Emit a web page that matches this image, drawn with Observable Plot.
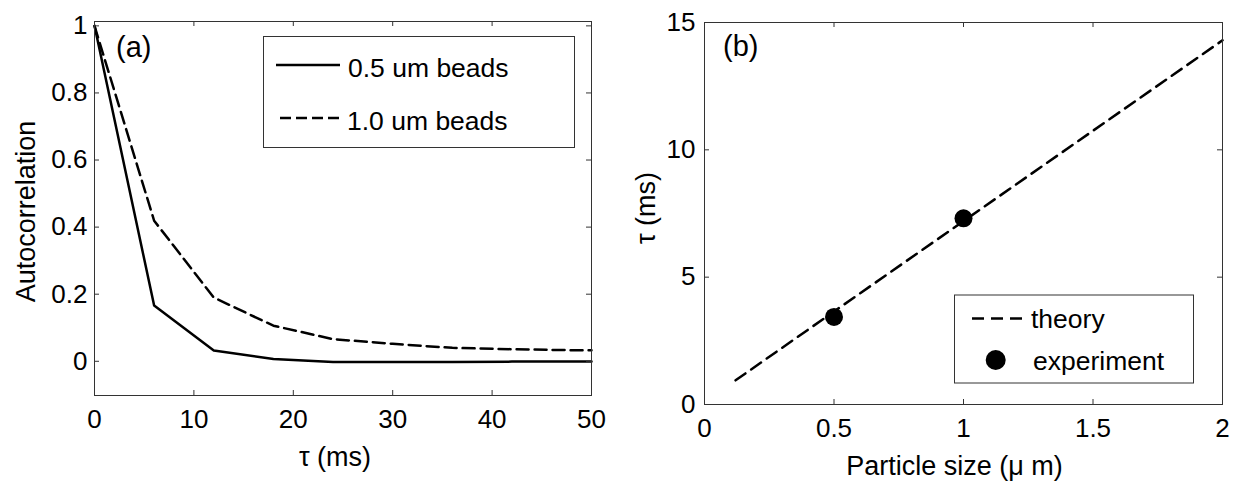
<!DOCTYPE html>
<html><head><meta charset="utf-8">
<script src="https://cdn.jsdelivr.net/npm/d3@7"></script>
<script src="https://cdn.jsdelivr.net/npm/@observablehq/plot@0.6"></script>
<style>
body{margin:0;background:#fff;}
#wrap{position:relative;width:1235px;height:484px;overflow:hidden;background:#fff;font-family:"Liberation Sans",Arial,sans-serif;}
#wrap svg{position:absolute;top:0;}
</style></head><body><div id="wrap"></div>
<script>
// Panel (a): autocorrelation vs tau
const tau = [0, 6, 12, 18, 24, 30, 36, 42, 48, 50];
const beads05 = [1, 0.166, 0.032, 0.007, -0.002, -0.002, -0.002, -0.001, -0.001, -0.001];
const beads10 = [1, 0.419, 0.19, 0.106, 0.066, 0.052, 0.04, 0.036, 0.033, 0.033];
const tauTicks = [0, 10, 20, 30, 40, 50];
const acTicks = [0, 0.2, 0.4, 0.6, 0.8, 1];
const legendA = ["0.5 um beads", "1.0 um beads"];

// Panel (b): tau vs particle size
const theorySize = [0.12, 0.5, 1.0, 1.5, 2.0];
const theoryTau = [0.95, 3.65, 7.2, 10.75, 14.3];
const expSize = [0.5, 1.0];
const expTau = [3.44, 7.31];
const sizeTicks = [0, 0.5, 1, 1.5, 2];
const tauBTicks = [0, 5, 10, 15];
const legendB = ["theory", "experiment"];

const FONT = "'Liberation Sans', Arial, sans-serif";
const FRAME = "#333";
const fmt = d => `${d}`;
const wrap = document.getElementById("wrap");

function boxTicks(xt, yt, pw, ph) {
  return [
    Plot.ruleX(xt, {x: d => d, insetTop: ph - 5, stroke: FRAME}),
    Plot.ruleX(xt, {x: d => d, insetBottom: ph - 5, stroke: FRAME}),
    Plot.ruleY(yt, {y: d => d, insetRight: pw - 5, stroke: FRAME}),
    Plot.ruleY(yt, {y: d => d, insetLeft: pw - 5, stroke: FRAME})
  ];
}

// ---- Panel (a)
const A = {w: 617, h: 484, mt: 21, mr: 26, mb: 89, ml: 94};
const Apw = A.w - A.ml - A.mr, Aph = A.h - A.mt - A.mb;
const rowsA05 = tau.map((t, i) => ({t, v: beads05[i]}));
const rowsA10 = tau.map((t, i) => ({t, v: beads10[i]}));
const chartA = Plot.plot({
  width: A.w, height: A.h,
  marginTop: A.mt, marginRight: A.mr, marginBottom: A.mb, marginLeft: A.ml,
  style: {fontFamily: FONT, fontSize: "26px", color: "black", background: "transparent", overflow: "visible"},
  x: {domain: [0, 50]},
  y: {domain: [-0.102, 1.013]},
  marks: [
    Plot.line(rowsA05, {x: "t", y: "v", stroke: "black", strokeWidth: 2.5}),
    Plot.line(rowsA10, {x: "t", y: "v", stroke: "black", strokeWidth: 2.5, strokeDasharray: "12,6"}),
    Plot.frame({stroke: FRAME}),
    ...boxTicks(tauTicks, acTicks, Apw, Aph),
    Plot.axisX(tauTicks, {anchor: "bottom", tickSize: 0, tickPadding: 14, label: null, fontSize: 26, tickFormat: fmt}),
    Plot.axisY(acTicks, {anchor: "left", tickSize: 0, tickPadding: 7, label: null, fontSize: 26, tickFormat: fmt}),
    Plot.text(["τ (ms)"], {frameAnchor: "bottom", textAnchor: "middle", dx: -8, dy: 70, fontSize: 27, fill: "black"}),
    Plot.text(["Autocorrelation"], {frameAnchor: "left", textAnchor: "middle", rotate: -90, dx: -68.5, dy: 3, fontSize: 27, fill: "black"})
  ]
});
chartA.style.left = "0px";
wrap.appendChild(chartA);

// ---- Panel (b)
const B = {w: 618, h: 484, mt: 22, mr: 13, mb: 80, ml: 87};
const Bpw = B.w - B.ml - B.mr, Bph = B.h - B.mt - B.mb;
const rowsTheory = theorySize.map((s, i) => ({s, t: theoryTau[i]}));
const rowsExp = expSize.map((s, i) => ({s, t: expTau[i]}));
const chartB = Plot.plot({
  width: B.w, height: B.h,
  marginTop: B.mt, marginRight: B.mr, marginBottom: B.mb, marginLeft: B.ml,
  style: {fontFamily: FONT, fontSize: "26px", color: "black", background: "transparent", overflow: "visible"},
  x: {domain: [0, 2]},
  y: {domain: [0, 15]},
  marks: [
    Plot.line(rowsTheory, {x: "s", y: "t", stroke: "black", strokeWidth: 2.5, strokeDasharray: "12,7"}),
    Plot.dot(rowsExp, {x: "s", y: "t", r: 9, fill: "black"}),
    Plot.frame({stroke: FRAME}),
    ...boxTicks(sizeTicks, tauBTicks, Bpw, Bph),
    Plot.axisX(sizeTicks, {anchor: "bottom", tickSize: 0, tickPadding: 14, label: null, fontSize: 26, tickFormat: fmt}),
    Plot.axisY(tauBTicks, {anchor: "left", tickSize: 0, tickPadding: 9, label: null, fontSize: 26, tickFormat: fmt}),
    Plot.text(["Particle size (μ m)"], {frameAnchor: "bottom", textAnchor: "middle", dx: -9, dy: 70, fontSize: 27, fill: "black"}),
    Plot.text(["τ (ms)"], {frameAnchor: "left", textAnchor: "middle", rotate: -90, dx: -58.5, dy: -5.5, fontSize: 27, fill: "black"})
  ]
});
chartB.style.left = "617px";
wrap.appendChild(chartB);

// ---- Legends and panel letters (overlay)
const ov = d3.select(wrap).append("svg")
  .attr("width", 1235).attr("height", 484)
  .style("left", "0px").style("pointer-events", "none")
  .attr("font-family", FONT).attr("fill", "black");

ov.append("text").attr("x", 116).attr("y", 57).attr("font-size", 29).text("(a)");
ov.append("text").attr("x", 723).attr("y", 55.5).attr("font-size", 29).text("(b)");

// legend (a)
ov.append("rect").attr("x", 263.5).attr("y", 36.5).attr("width", 311).attr("height", 111)
  .attr("fill", "white").attr("stroke", FRAME).attr("stroke-width", 1);
ov.append("line").attr("x1", 276).attr("x2", 340).attr("y1", 65).attr("y2", 65)
  .attr("stroke", "black").attr("stroke-width", 2.5);
ov.append("line").attr("x1", 280).attr("x2", 343).attr("y1", 118).attr("y2", 118)
  .attr("stroke", "black").attr("stroke-width", 2.5).attr("stroke-dasharray", "11,5");
ov.append("text").attr("x", 348).attr("y", 76.5).attr("font-size", 26.5).text(legendA[0]);
ov.append("text").attr("x", 347).attr("y", 129.5).attr("font-size", 26.5).text(legendA[1]);

// legend (b)
ov.append("rect").attr("x", 954.5).attr("y", 295).attr("width", 239).attr("height", 88)
  .attr("fill", "white").attr("stroke", FRAME).attr("stroke-width", 1);
ov.append("line").attr("x1", 972).attr("x2", 1028).attr("y1", 318.5).attr("y2", 318.5)
  .attr("stroke", "black").attr("stroke-width", 2.5).attr("stroke-dasharray", "12,7");
ov.append("circle").attr("cx", 995.7).attr("cy", 360).attr("r", 10).attr("fill", "black");
ov.append("text").attr("x", 1031).attr("y", 328).attr("font-size", 26.5).text(legendB[0]);
ov.append("text").attr("x", 1033).attr("y", 370).attr("font-size", 26.5).text(legendB[1]);
</script>
</body></html>
